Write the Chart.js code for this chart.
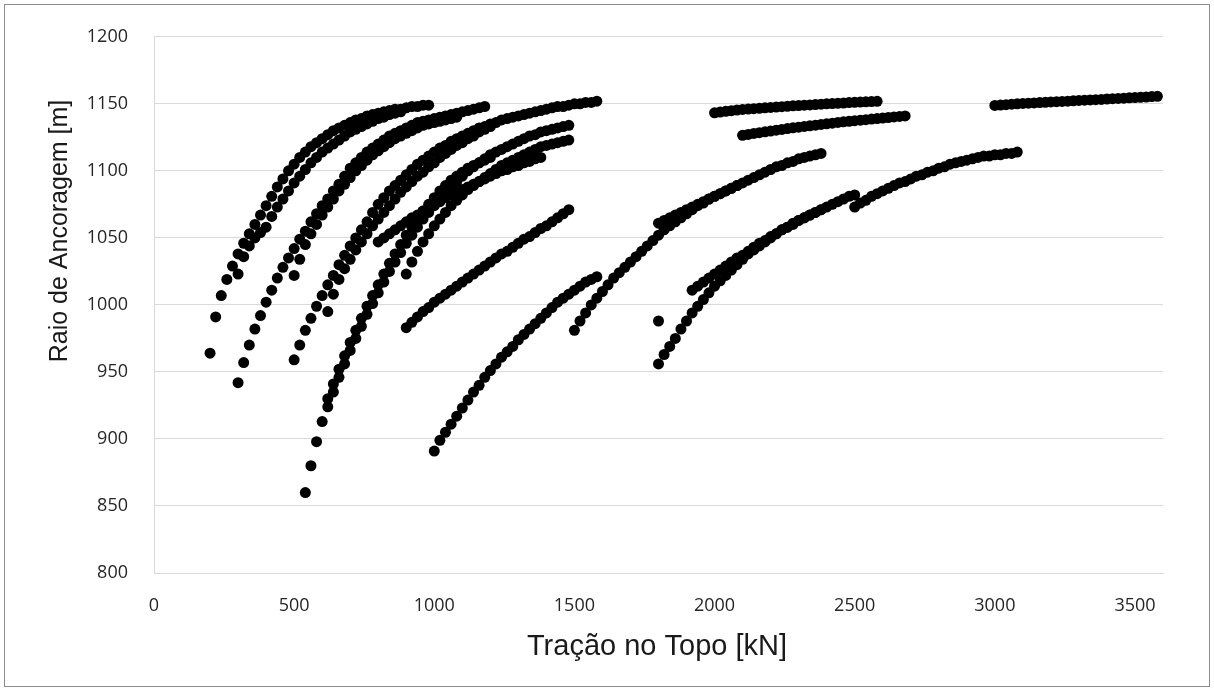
<!DOCTYPE html>
<html>
<head>
<meta charset="utf-8">
<script src="https://cdn.jsdelivr.net/npm/chart.js@4.4.0/dist/chart.umd.min.js"></script>
<style>
  html, body { margin: 0; padding: 0; background: #fff; }
  canvas { display: block; }
</style>
</head>
<body>
<canvas id="chart" width="1214" height="691"></canvas>
<script>
// Tração no topo [kN] x raio de ancoragem [m], uma série por configuração de linha

const s1x = [200, 220, 240, 260, 280, 300, 320, 340, 360, 380, 400, 420, 440, 460, 480, 500, 520, 540, 560, 580, 600, 620, 640, 660, 680, 700, 720, 740, 760, 780, 800, 820, 840, 860, 880, 900, 920, 940, 960, 980];
const s1y = [964, 991, 1007, 1019, 1029, 1038, 1046, 1053, 1060, 1067, 1074, 1081, 1088, 1094, 1100, 1105, 1110, 1114, 1118, 1121, 1124, 1127, 1130, 1132, 1134, 1136, 1138, 1139, 1141, 1142, 1143, 1144, 1145, 1146, 1146, 1147, 1148, 1148, 1149, 1149];

const s1bx = [300, 320, 340, 360, 380, 400, 420, 440, 460, 480, 500, 520, 540, 560, 580, 600, 620, 640, 660, 680, 700, 720, 740, 760, 780, 800, 820, 840, 860, 880];
const s1by = [1023, 1036, 1044, 1050, 1054, 1058, 1066, 1073, 1079, 1085, 1091, 1096, 1101, 1106, 1110, 1114, 1117, 1120, 1123, 1126, 1129, 1131, 1133, 1135, 1137, 1139, 1140, 1142, 1143, 1144];

const s2x = [300, 320, 340, 360, 380, 400, 420, 440, 460, 480, 500, 520, 540, 560, 580, 600, 620, 640, 660, 680, 700, 720, 740, 760, 780, 800, 820, 840, 860, 880, 900, 920, 940, 960, 980, 1000, 1020, 1040, 1060, 1080, 1100, 1120, 1140, 1160, 1180];
const s2y = [942, 957, 970, 982, 992, 1002, 1011, 1020, 1028, 1035, 1042, 1049, 1055, 1062, 1068, 1074, 1079, 1085, 1090, 1096, 1102, 1106, 1110, 1114, 1117, 1120, 1123, 1126, 1128, 1130, 1132, 1134, 1136, 1137, 1138, 1139, 1140, 1141, 1142, 1143, 1144, 1145, 1146, 1147, 1148];

const s2bx = [500, 520, 540, 560, 580, 600, 620, 640, 660, 680, 700, 720, 740, 760, 780, 800, 820, 840, 860, 880, 900, 920, 940, 960, 980, 1000, 1020, 1040, 1060, 1080];
const s2by = [1022, 1034, 1045, 1053, 1060, 1067, 1073, 1079, 1085, 1090, 1095, 1100, 1104, 1108, 1112, 1115, 1118, 1121, 1124, 1126, 1128, 1130, 1132, 1134, 1135, 1136, 1137, 1138, 1139, 1140];

const s3x = [500, 520, 540, 560, 580, 600, 620, 640, 660, 680, 700, 720, 740, 760, 780, 800, 820, 840, 860, 880, 900, 920, 940, 960, 980, 1000, 1020, 1040, 1060, 1080, 1100, 1120, 1140, 1160, 1180, 1200, 1220, 1240, 1260, 1280, 1300, 1320, 1340, 1360, 1380, 1400, 1420, 1440, 1460, 1480, 1500, 1520, 1540, 1560, 1580];
const s3y = [959, 970, 981, 990, 999, 1007, 1015, 1022, 1030, 1037, 1044, 1050, 1056, 1062, 1069, 1075, 1080, 1085, 1089, 1093, 1097, 1101, 1105, 1108, 1111, 1114, 1117, 1119, 1122, 1124, 1126, 1128, 1130, 1132, 1133, 1135, 1136, 1138, 1139, 1140, 1141, 1142, 1143, 1144, 1145, 1146, 1147, 1148, 1148, 1149, 1150, 1150, 1151, 1151, 1152];

const s3bx = [620, 640, 660, 680, 700, 720, 740, 760, 780, 800, 820, 840, 860, 880, 900, 920, 940, 960, 980, 1000, 1020, 1040, 1060, 1080, 1100, 1120, 1140, 1160, 1180, 1200];
const s3by = [995, 1008, 1019, 1027, 1034, 1041, 1047, 1053, 1059, 1064, 1069, 1074, 1079, 1084, 1088, 1092, 1096, 1099, 1103, 1106, 1110, 1113, 1116, 1119, 1121, 1124, 1126, 1129, 1131, 1133];

const s4x = [540, 560, 580, 600, 620, 640, 660, 680, 700, 720, 740, 760, 780, 800, 820, 840, 860, 880, 900, 920, 940, 960, 980, 1000, 1020, 1040, 1060, 1080, 1100, 1120, 1140, 1160, 1180, 1200, 1220, 1240, 1260, 1280, 1300, 1320, 1340, 1360, 1380, 1400, 1420, 1440, 1460, 1480];
const s4y = [860, 880, 898, 913, 924, 935, 946, 956, 966, 975, 984, 993, 1001, 1009, 1017, 1025, 1032, 1039, 1046, 1052, 1058, 1064, 1069, 1074, 1079, 1084, 1088, 1092, 1096, 1100, 1103, 1106, 1109, 1112, 1114, 1116, 1118, 1120, 1122, 1124, 1126, 1127, 1129, 1130, 1131, 1132, 1133, 1134];

const s4bx = s3bx;
const s4by = [930, 941, 952, 962, 972, 981, 990, 999, 1007, 1015, 1023, 1031, 1038, 1045, 1052, 1058, 1064, 1070, 1075, 1080, 1085, 1089, 1093, 1096, 1099, 1102, 1104, 1106, 1108, 1110];

const s5x = [800, 820, 840, 860, 880, 900, 920, 940, 960, 980, 1000, 1020, 1040, 1060, 1080, 1100, 1120, 1140, 1160, 1180, 1200, 1220, 1240, 1260, 1280, 1300, 1320, 1340, 1360, 1380];
const s5y = [1047, 1050, 1053, 1056, 1059, 1062, 1065, 1067, 1070, 1072, 1075, 1077, 1080, 1082, 1084, 1086, 1088, 1090, 1092, 1094, 1096, 1098, 1100, 1101, 1103, 1104, 1106, 1107, 1109, 1110];

const s6x = [900, 920, 940, 960, 980, 1000, 1020, 1040, 1060, 1080, 1100, 1120, 1140, 1160, 1180, 1200, 1220, 1240, 1260, 1280, 1300, 1320, 1340, 1360, 1380, 1400, 1420, 1440, 1460, 1480];
const s6y = [1023, 1032, 1040, 1047, 1053, 1059, 1064, 1069, 1074, 1078, 1082, 1086, 1089, 1092, 1095, 1098, 1101, 1104, 1106, 1108, 1110, 1112, 1114, 1116, 1118, 1119, 1120, 1121, 1122, 1123];

const s7x = s6x;
const s7y = [983, 987, 991, 995, 998, 1002, 1005, 1008, 1011, 1014, 1017, 1020, 1023, 1026, 1029, 1032, 1035, 1038, 1040, 1043, 1046, 1049, 1051, 1054, 1057, 1059, 1062, 1065, 1068, 1071];

const s8x = [1000, 1020, 1040, 1060, 1080, 1100, 1120, 1140, 1160, 1180, 1200, 1220, 1240, 1260, 1280, 1300, 1320, 1340, 1360, 1380, 1400, 1420, 1440, 1460, 1480, 1500, 1520, 1540, 1560, 1580];
const s8y = [891, 899, 905, 911, 917, 923, 929, 935, 940, 946, 951, 956, 961, 965, 969, 974, 978, 982, 986, 990, 994, 998, 1002, 1005, 1008, 1011, 1014, 1017, 1019, 1021];

const s9x = [1500, 1520, 1540, 1560, 1580, 1600, 1620, 1640, 1660, 1680, 1700, 1720, 1740, 1760, 1780, 1800, 1820, 1840, 1860, 1880, 1900, 1920, 1940, 1960, 1980, 2000, 2020, 2040, 2060, 2080];
const s9y = [981, 988, 994, 1000, 1005, 1010, 1015, 1020, 1024, 1028, 1032, 1036, 1040, 1044, 1048, 1052, 1056, 1059, 1062, 1065, 1068, 1071, 1074, 1076, 1079, 1081, 1083, 1085, 1087, 1089];

const s10x = [1800, 1820, 1840, 1860, 1880, 1900, 1920, 1940, 1960, 1980, 2000, 2020, 2040, 2060, 2080, 2100, 2120, 2140, 2160, 2180, 2200, 2220, 2240, 2260, 2280, 2300, 2320, 2340, 2360, 2380];
const s10y = [1061, 1063, 1065, 1067, 1069, 1071, 1073, 1075, 1077, 1079, 1081, 1083, 1085, 1087, 1089, 1091, 1093, 1095, 1097, 1099, 1101, 1103, 1104, 1106, 1107, 1109, 1110, 1111, 1112, 1113];

const s11x = s10x;
const s11y = [956, 963, 969, 975, 982, 988, 994, 999, 1004, 1009, 1014, 1018, 1022, 1026, 1030, 1034, 1038, 1041, 1044, 1047, 1050, 1053, 1056, 1058, 1061, 1063, 1065, 1067, 1069, 1071];

const s12x = [1920, 1940, 1960, 1980, 2000, 2020, 2040, 2060, 2080, 2100, 2120, 2140, 2160, 2180, 2200, 2220, 2240, 2260, 2280, 2300, 2320, 2340, 2360, 2380, 2400, 2420, 2440, 2460, 2480, 2500];
const s12y = [1011, 1014, 1017, 1020, 1023, 1026, 1029, 1032, 1035, 1037, 1040, 1043, 1046, 1048, 1051, 1053, 1056, 1058, 1060, 1063, 1065, 1067, 1069, 1071, 1073, 1075, 1077, 1079, 1081, 1082];

// ponto isolado
const s13x = [1800];
const s13y = [988];

const s14x = [2500, 2520, 2540, 2560, 2580, 2600, 2620, 2640, 2660, 2680, 2700, 2720, 2740, 2760, 2780, 2800, 2820, 2840, 2860, 2880, 2900, 2920, 2940, 2960, 2980, 3000, 3020, 3040, 3060, 3080];
const s14y = [1073, 1076, 1078, 1081, 1083, 1085, 1087, 1089, 1091, 1092, 1094, 1096, 1097, 1099, 1100, 1102, 1103, 1105, 1106, 1107, 1108, 1109, 1110, 1111, 1111, 1112, 1112, 1113, 1113, 1114];

const s15x = [2000, 2020, 2040, 2060, 2080, 2100, 2120, 2140, 2160, 2180, 2200, 2220, 2240, 2260, 2280, 2300, 2320, 2340, 2360, 2380, 2400, 2420, 2440, 2460, 2480, 2500, 2520, 2540, 2560, 2580];
const s15y = [1143.3, 1143.9, 1144.4, 1144.9, 1145.4, 1145.8, 1146.1, 1146.4, 1146.7, 1147.0, 1147.3, 1147.6, 1147.9, 1148.2, 1148.5, 1148.7, 1149.0, 1149.2, 1149.5, 1149.7, 1150.0, 1150.2, 1150.4, 1150.6, 1150.9, 1151.1, 1151.3, 1151.5, 1151.7, 1151.9];

const s16x = [2100, 2120, 2140, 2160, 2180, 2200, 2220, 2240, 2260, 2280, 2300, 2320, 2340, 2360, 2380, 2400, 2420, 2440, 2460, 2480, 2500, 2520, 2540, 2560, 2580, 2600, 2620, 2640, 2660, 2680];
const s16y = [1126.5, 1127.2, 1127.9, 1128.5, 1129.1, 1129.7, 1130.3, 1130.9, 1131.5, 1132.1, 1132.6, 1133.1, 1133.6, 1134.1, 1134.6, 1135.1, 1135.6, 1136.1, 1136.6, 1137.0, 1137.4, 1137.8, 1138.2, 1138.6, 1139.0, 1139.4, 1139.8, 1140.2, 1140.6, 1141.0];

const s17x = [3000, 3020, 3040, 3060, 3080, 3100, 3120, 3140, 3160, 3180, 3200, 3220, 3240, 3260, 3280, 3300, 3320, 3340, 3360, 3380, 3400, 3420, 3440, 3460, 3480, 3500, 3520, 3540, 3560, 3580];
const s17y = [1148.8, 1149.1, 1149.4, 1149.7, 1150.0, 1150.3, 1150.5, 1150.7, 1150.9, 1151.1, 1151.4, 1151.6, 1151.8, 1152.0, 1152.3, 1152.5, 1152.7, 1152.9, 1153.1, 1153.3, 1153.6, 1153.8, 1154.0, 1154.2, 1154.5, 1154.7, 1154.9, 1155.1, 1155.4, 1155.6];

const xTicks = [0, 500, 1000, 1500, 2000, 2500, 3000, 3500];
const yTicks = [800, 850, 900, 950, 1000, 1050, 1100, 1150, 1200];
const xTitle = 'Tração no Topo [kN]';
const yTitle = 'Raio de Ancoragem [m]';

const series = [
  [s1x, s1y], [s1bx, s1by], [s2x, s2y], [s2bx, s2by], [s3x, s3y], [s3bx, s3by],
  [s4x, s4y], [s4bx, s4by], [s5x, s5y], [s6x, s6y], [s7x, s7y], [s8x, s8y],
  [s9x, s9y], [s10x, s10y], [s11x, s11y], [s12x, s12y], [s13x, s13y],
  [s14x, s14y], [s15x, s15y], [s16x, s16y], [s17x, s17y]
];

function toPoints(xs, ys) {
  return xs.map((x, i) => ({ x: x, y: ys[i] }));
}

// títulos dos eixos e moldura externa
const decor = {
  id: 'decor',
  beforeDraw(chart) {
    const ctx = chart.ctx;
    ctx.save();
    ctx.fillStyle = '#fff';
    ctx.fillRect(0, 0, chart.width, chart.height);
    ctx.strokeStyle = '#8c8c8c';
    ctx.lineWidth = 1;
    ctx.strokeRect(4.5, 4.5, chart.width - 9, chart.height - 9);
    ctx.restore();
  },
  afterDraw(chart) {
    const ctx = chart.ctx;
    ctx.save();
    ctx.fillStyle = '#1a1a1a';
    ctx.textAlign = 'center';
    ctx.textBaseline = 'middle';
    ctx.font = '29px "Liberation Sans", Arial, sans-serif';
    ctx.fillText(xTitle, 657, 647);
    ctx.translate(60, 231);
    ctx.rotate(-Math.PI / 2);
    ctx.font = '25px "Liberation Sans", Arial, sans-serif';
    ctx.fillText(yTitle, 0, 0);
    ctx.restore();
  }
};

const tickFont = { family: '"Open Sans", sans-serif', size: 18 };
const plain = v => String(v);

new Chart(document.getElementById('chart'), {
  type: 'scatter',
  data: {
    datasets: series.map(([xs, ys]) => ({
      data: toPoints(xs, ys),
      backgroundColor: '#000',
      borderColor: '#000',
      borderWidth: 0,
      pointRadius: 5.5,
      pointHoverRadius: 5.5
    }))
  },
  options: {
    responsive: false,
    animation: false,
    devicePixelRatio: 1,
    layout: { padding: { top: 34, right: 51, left: 0, bottom: 0 } },
    plugins: { legend: { display: false }, tooltip: { enabled: false } },
    scales: {
      x: {
        type: 'linear',
        min: 0,
        max: 3600,
        afterBuildTicks: s => { s.ticks = xTicks.map(v => ({ value: v })); },
        afterFit: s => { s.height = 118; },
        grid: { display: false, drawTicks: false },
        border: { display: true, color: '#d9d9d9', width: 1 },
        ticks: { padding: 22, color: '#262626', font: tickFont, maxRotation: 0, callback: plain }
      },
      y: {
        type: 'linear',
        min: 800,
        max: 1200,
        afterBuildTicks: s => { s.ticks = yTicks.map(v => ({ value: v })); },
        afterFit: s => { s.width = 154; },
        grid: { color: '#d9d9d9', lineWidth: 1, drawTicks: false },
        border: { display: true, color: '#d9d9d9', width: 1 },
        ticks: { padding: 26, color: '#262626', font: tickFont, callback: plain }
      }
    }
  },
  plugins: [decor]
});
</script>
</body>
</html>
